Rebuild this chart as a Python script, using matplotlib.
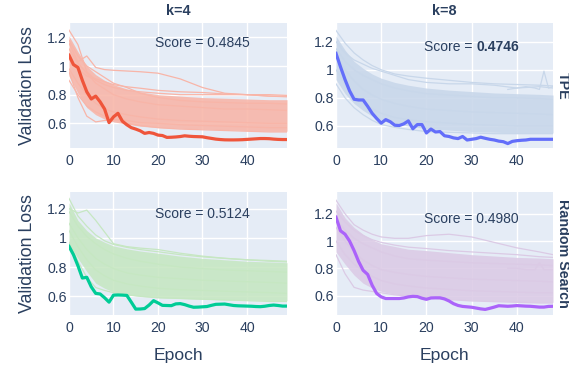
import matplotlib
matplotlib.use("Agg")
import matplotlib.pyplot as plt
import numpy as np

plt.rcParams['font.family'] = ['Liberation Sans', 'DejaVu Sans']

# ---------------- data ----------------
col_titles = ["k=4", "k=8"]
row_titles = ["TPE", "Random Search"]
scores = ["0.4845", "0.4746", "0.5124", "0.4980"]
x_ticks = [0, 10, 20, 30, 40]
y_ticks = [0.6, 0.8, 1.0, 1.2]
y_tick_labels = ["0.6", "0.8", "1", "1.2"]

# best runs (per epoch)
tl_best = [1.075, 1.01, 0.99, 0.90, 0.82, 0.77, 0.79, 0.75, 0.70, 0.605,
           0.645, 0.67, 0.615, 0.59, 0.57, 0.56, 0.548, 0.53, 0.536, 0.53,
           0.518, 0.515, 0.502, 0.503, 0.505, 0.508, 0.513, 0.51, 0.508, 0.507,
           0.506, 0.50, 0.495, 0.49, 0.487, 0.485, 0.4845, 0.4845, 0.485, 0.486,
           0.488, 0.49, 0.492, 0.494, 0.494, 0.493, 0.49, 0.488, 0.487, 0.487]
tr_best = [1.117, 1.02, 0.93, 0.85, 0.79, 0.785, 0.785, 0.74, 0.69, 0.653,
           0.62, 0.645, 0.63, 0.605, 0.603, 0.615, 0.636, 0.58, 0.61, 0.61,
           0.55, 0.578, 0.557, 0.56, 0.53, 0.525, 0.515, 0.51, 0.525, 0.50,
           0.505, 0.51, 0.52, 0.512, 0.505, 0.50, 0.492, 0.488, 0.4746, 0.49,
           0.495, 0.498, 0.50, 0.505, 0.505, 0.505, 0.505, 0.505, 0.505]
bl_best = [0.942, 0.885, 0.81, 0.725, 0.73, 0.665, 0.62, 0.616, 0.59, 0.56,
           0.608, 0.609, 0.608, 0.606, 0.56, 0.5124, 0.513, 0.516, 0.54, 0.57,
           0.555, 0.538, 0.537, 0.536, 0.548, 0.55, 0.543, 0.533, 0.525, 0.526,
           0.528, 0.53, 0.538, 0.545, 0.546, 0.547, 0.542, 0.537, 0.535, 0.534,
           0.533, 0.532, 0.53, 0.529, 0.532, 0.537, 0.54, 0.537, 0.533, 0.533]
br_best = [1.175, 1.075, 1.05, 1.0, 0.93, 0.85, 0.785, 0.755, 0.675, 0.615,
           0.59, 0.578, 0.578, 0.578, 0.578, 0.582, 0.59, 0.594, 0.592, 0.58,
           0.572, 0.582, 0.583, 0.583, 0.575, 0.56, 0.54, 0.527, 0.52, 0.517,
           0.514, 0.508, 0.502, 0.498, 0.506, 0.515, 0.525, 0.523, 0.521, 0.523,
           0.526, 0.524, 0.522, 0.521, 0.518, 0.515, 0.515, 0.52, 0.521]

# other runs: sampled epochs
bg_x_left = [0, 2, 4, 6, 8, 10, 13, 16, 20, 25, 30, 35, 40, 45, 49]
bg_x_right = [0, 2, 4, 6, 8, 10, 13, 16, 20, 25, 30, 35, 40, 45, 48]

tl_band_hi = [1.21, 1.10, 1.00, 0.94, 0.90, 0.87, 0.84, 0.82, 0.80, 0.79, 0.78, 0.775, 0.77, 0.765, 0.765]
tl_band_lo = [0.93, 0.81, 0.71, 0.66, 0.63, 0.61, 0.595, 0.58, 0.57, 0.565, 0.56, 0.555, 0.55, 0.545, 0.545]
tl_runs = [
    [1.16, 1.03, 1.07, 0.99, 0.975, 0.97, 0.965, 0.96, 0.95, 0.91, 0.85, 0.81, 0.80, 0.79, 0.785],
    [1.25, 1.15, 0.96, 0.90, 0.87, 0.85, 0.83, 0.82, 0.81, 0.80, 0.80, 0.80, 0.80, 0.79, 0.79],
    [0.96, 0.78, 0.65, 0.61, 0.62, 0.625, 0.62, 0.605, 0.60, 0.59, 0.585, 0.58, 0.575, 0.57, 0.57],
    [1.05, 0.98, 0.93, 0.91, 0.89, 0.87, 0.855, 0.845, 0.83, 0.82, 0.815, 0.805, 0.80, 0.80, 0.795],
    [0.90, 0.80, 0.72, 0.68, 0.65, 0.63, 0.60, 0.585, 0.57, 0.56, 0.555, 0.55, 0.545, 0.54, 0.54],
    [1.12, 1.02, 0.95, 0.88, 0.84, 0.80, 0.77, 0.75, 0.73, 0.72, 0.71, 0.70, 0.70, 0.695, 0.69],
    [0.98, 0.88, 0.80, 0.74, 0.70, 0.68, 0.66, 0.645, 0.63, 0.62, 0.615, 0.61, 0.605, 0.60, 0.60],
    [1.18, 1.07, 1.00, 0.96, 0.92, 0.88, 0.85, 0.81, 0.78, 0.76, 0.75, 0.745, 0.74, 0.74, 0.735],
]

tr_band_hi = [1.24, 1.14, 1.06, 1.01, 0.97, 0.94, 0.91, 0.89, 0.87, 0.855, 0.845, 0.835, 0.83, 0.825, 0.82]
tr_band_lo = [0.93, 0.83, 0.76, 0.71, 0.67, 0.64, 0.615, 0.60, 0.58, 0.57, 0.56, 0.555, 0.55, 0.55, 0.55]
tr_runs = [
    [1.28, 1.19, 1.12, 1.07, 1.03, 1.00, 0.97, 0.955, 0.94, 0.925, 0.91, 0.90, 0.895, 0.89, 0.885],
    [1.20, 1.12, 1.07, 1.04, 1.01, 0.99, 0.96, 0.93, 0.91, 0.90, 0.90, 0.89, 0.87, 0.88, 0.87],
    [0.90, 0.80, 0.73, 0.68, 0.64, 0.61, 0.59, 0.575, 0.56, 0.555, 0.55, 0.545, 0.545, 0.545, 0.545],
    [1.10, 1.00, 0.92, 0.86, 0.82, 0.79, 0.76, 0.74, 0.72, 0.71, 0.70, 0.695, 0.69, 0.685, 0.68],
    [1.00, 0.90, 0.82, 0.76, 0.72, 0.69, 0.66, 0.645, 0.63, 0.62, 0.61, 0.605, 0.60, 0.60, 0.60],
    [1.15, 1.06, 1.00, 0.96, 0.93, 0.90, 0.87, 0.85, 0.83, 0.82, 0.81, 0.80, 0.80, 0.795, 0.79],
]
tr_spike_x = [38, 40, 42, 44, 45, 46, 47, 48]
tr_spike_y = [0.86, 0.87, 0.88, 0.87, 0.86, 0.99, 0.87, 0.88]

bl_band_hi = [1.24, 1.12, 1.05, 1.00, 0.97, 0.945, 0.925, 0.91, 0.895, 0.875, 0.86, 0.85, 0.84, 0.835, 0.83]
bl_band_lo = [0.96, 0.86, 0.77, 0.69, 0.655, 0.63, 0.61, 0.60, 0.59, 0.585, 0.58, 0.575, 0.575, 0.57, 0.57]
bl_runs = [
    [1.20, 1.17, 1.19, 1.12, 1.04, 0.96, 0.94, 0.93, 0.92, 0.895, 0.875, 0.86, 0.85, 0.84, 0.835],
    [1.27, 1.15, 1.08, 1.02, 0.98, 0.955, 0.935, 0.92, 0.905, 0.885, 0.87, 0.86, 0.85, 0.845, 0.84],
    [0.97, 0.84, 0.73, 0.66, 0.64, 0.625, 0.61, 0.60, 0.59, 0.585, 0.58, 0.575, 0.57, 0.565, 0.565],
    [1.10, 1.00, 0.92, 0.86, 0.82, 0.79, 0.76, 0.745, 0.73, 0.72, 0.71, 0.705, 0.70, 0.695, 0.69],
    [1.05, 0.94, 0.85, 0.78, 0.74, 0.71, 0.685, 0.67, 0.655, 0.645, 0.64, 0.635, 0.63, 0.625, 0.62],
    [1.18, 1.08, 1.01, 0.96, 0.92, 0.89, 0.86, 0.84, 0.82, 0.80, 0.79, 0.78, 0.775, 0.77, 0.765],
]

br_band_hi = [1.28, 1.17, 1.10, 1.05, 1.01, 0.98, 0.96, 0.94, 0.93, 0.915, 0.90, 0.89, 0.88, 0.875, 0.87]
br_band_lo = [0.92, 0.83, 0.75, 0.69, 0.655, 0.63, 0.61, 0.60, 0.59, 0.575, 0.565, 0.56, 0.555, 0.55, 0.55]
br_runs = [
    [1.30, 1.20, 1.12, 1.08, 1.05, 1.03, 1.02, 1.02, 1.04, 1.05, 1.03, 0.99, 0.95, 0.92, 0.90],
    [1.22, 1.14, 1.08, 1.04, 1.01, 0.99, 0.97, 0.955, 0.945, 0.93, 0.92, 0.91, 0.90, 0.885, 0.88],
    [0.90, 0.76, 0.66, 0.64, 0.63, 0.62, 0.605, 0.595, 0.585, 0.57, 0.56, 0.555, 0.55, 0.545, 0.545],
    [1.10, 1.00, 0.92, 0.86, 0.82, 0.79, 0.77, 0.755, 0.74, 0.73, 0.72, 0.715, 0.71, 0.705, 0.70],
    [1.00, 0.90, 0.83, 0.78, 0.74, 0.71, 0.685, 0.67, 0.655, 0.645, 0.635, 0.63, 0.625, 0.62, 0.62],
    [1.16, 1.08, 1.02, 0.98, 0.95, 0.92, 0.89, 0.87, 0.86, 0.85, 0.84, 0.835, 0.83, 0.825, 0.82],
]
br_spike_x = [38, 40, 42, 44, 45, 46, 48]
br_spike_y = [0.80, 0.80, 0.79, 0.79, 0.84, 0.79, 0.79]

# ---------------- style ----------------
TXT = '#2a3f5f'
BG = '#E5ECF6'
panels = [
    dict(best=tl_best, bx=bg_x_left, hi=tl_band_hi, lo=tl_band_lo, runs=tl_runs, spike=None,
         c_bg='#F8B5A8', c_hi='#EF553B', xmax=49, ylim=(0.428, 1.30),
         rect=[69, 23, 218, 125]),
    dict(best=tr_best, bx=bg_x_right, hi=tr_band_hi, lo=tr_band_lo, runs=tr_runs,
         spike=(tr_spike_x, tr_spike_y),
         c_bg='#C8D7EA', c_hi='#636EFA', xmax=48, ylim=(0.443, 1.333),
         rect=[336, 23, 217, 125]),
    dict(best=bl_best, bx=bg_x_left, hi=bl_band_hi, lo=bl_band_lo, runs=bl_runs, spike=None,
         c_bg='#C6E7C2', c_hi='#00CC96', xmax=49, ylim=(0.472, 1.314),
         rect=[69, 192, 218, 123]),
    dict(best=br_best, bx=bg_x_right, hi=br_band_hi, lo=br_band_lo, runs=br_runs,
         spike=(br_spike_x, br_spike_y),
         c_bg='#DBCAE5', c_hi='#AB63FA', xmax=48, ylim=(0.457, 1.36),
         rect=[336, 192, 217, 123]),
]

W, H = 569, 369
fig = plt.figure(figsize=(W / 100, H / 100), dpi=100)
fig.patch.set_facecolor('white')

SCORE_FS = 10.0

axes = []
for i, p in enumerate(panels):
    l, t, w, h = p['rect']
    ax = fig.add_axes([l / W, 1 - (t + h) / H, w / W, h / H])
    axes.append(ax)
    ax.set_facecolor(BG)
    for s in ax.spines.values():
        s.set_visible(False)
    ax.set_axisbelow(True)
    ax.grid(True, color='white', linewidth=1.0)
    ax.fill_between(p['bx'], p['lo'], p['hi'], color=p['c_bg'], alpha=0.88,
                    linewidth=0, zorder=1)
    for r in p['runs']:
        ax.plot(p['bx'], r, color=p['c_bg'], linewidth=0.9, zorder=2)
    if p['spike'] is not None:
        ax.plot(p['spike'][0], p['spike'][1], color=p['c_bg'], linewidth=0.9, zorder=2)
    ax.plot(np.arange(len(p['best'])), p['best'], color=p['c_hi'], linewidth=2.3,
            zorder=3, solid_joinstyle='round')
    ax.set_xlim(0, p['xmax'])
    ax.set_ylim(*p['ylim'])
    ax.set_xticks(x_ticks)
    ax.set_xticklabels([str(v) for v in x_ticks])
    ax.set_yticks(y_ticks)
    ax.set_yticklabels(y_tick_labels)
    ax.tick_params(length=0, labelsize=10.2, colors=TXT)
    ax.tick_params(axis='y', pad=1.5)
    ax.tick_params(axis='x', pad=4)

    # score annotation
    if i == 1:
        ax.annotate("Score =", xy=(30, 1.16), xytext=(0.8, 0), textcoords='offset points',
                    ha='right', va='center', fontsize=SCORE_FS, color=TXT)
        ax.annotate(scores[i], xy=(30, 1.16), xytext=(3.6, 0), textcoords='offset points',
                    ha='left', va='center', fontsize=SCORE_FS, color=TXT, fontweight='bold')
    else:
        ax.text(30, 1.16, "Score = " + scores[i], ha='center', va='center',
                fontsize=SCORE_FS, color=TXT)

# column titles
for j, ax in enumerate(axes[:2]):
    ax.set_title(col_titles[j], fontsize=10.4, fontweight='bold', color=TXT, pad=6)

# row titles
for k, ax in enumerate([axes[1], axes[3]]):
    ax.text(1.045, 0.5, row_titles[k], transform=ax.transAxes, rotation=-90,
            ha='center', va='center', fontsize=10.3, fontweight='bold', color=TXT)

for ax in [axes[0], axes[2]]:
    ax.set_ylabel("Validation Loss", fontsize=12.8, color=TXT, labelpad=8)
for ax in [axes[2], axes[3]]:
    ax.set_xlabel("Epoch", fontsize=12.6, color=TXT, labelpad=10)

fig.savefig("out.png", dpi=100, facecolor='white')
